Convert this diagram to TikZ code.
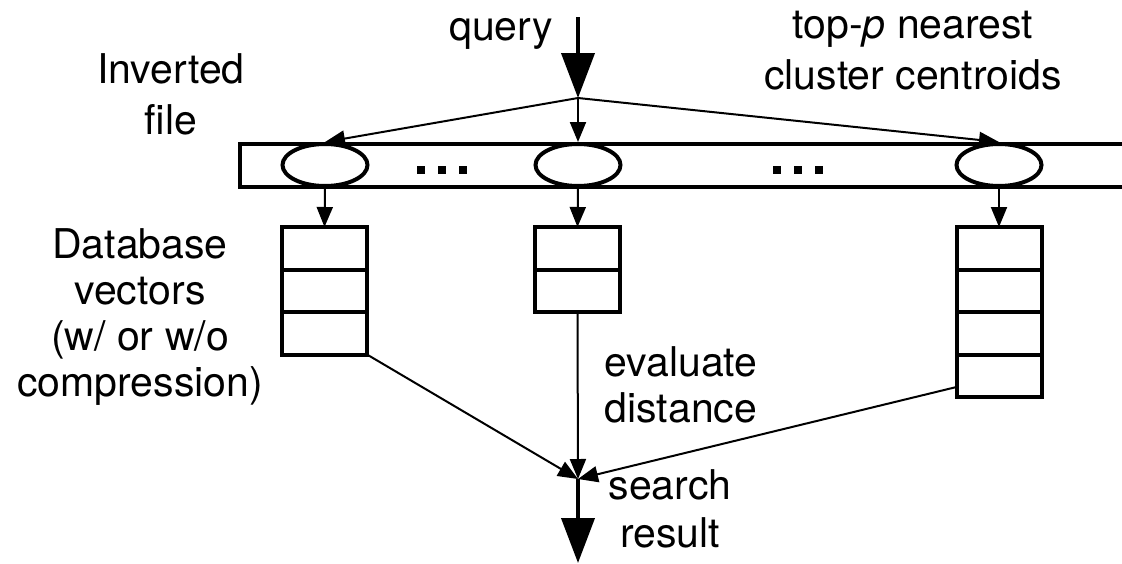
\documentclass[tikz,border=0pt]{standalone}
\usepackage{fontspec}
\setmainfont{TeX Gyre Heros}
\usetikzlibrary{arrows.meta,shapes.geometric}

\tikzset{
  txt/.style={inner sep=0pt, align=center, font=\fontsize{41}{#1}\selectfont},
  txt/.default=51,
  outline/.style={line width=4pt},
  cell/.style={draw, outline, rectangle, minimum width=85pt, minimum height=42.5pt, inner sep=0pt, outer sep=0pt},
  centroid/.style={draw, outline, ellipse, minimum width=85pt, minimum height=42pt, inner sep=0pt, fill=white},
  thin/.style={line width=2pt, -{Triangle[length=20pt,width=16pt]}},
  bigarrow/.style={line width=4pt, -{Triangle[length=45pt,width=33pt]}},
}

\begin{document}
\begin{tikzpicture}[x=1pt,y=-1pt]
\useasboundingbox (0,0) rectangle (1122,563);

% inverted file bar (runs off the right edge)
\draw[outline] (1126,144) -- (240,144) -- (240,187) -- (1126,187);

% cluster centroids
\node[centroid] (e1) at (325,165) {};
\node[centroid] (e2) at (578,165) {};
\node[centroid] (e3) at (999,165) {};

% ellipsis dots between the centroids
\foreach \x in {421,442,463} \fill (\x-4,166) rectangle (\x+4,174);
\foreach \x in {777,798,819} \fill (\x-4,166) rectangle (\x+4,174);

% lists of database vectors
\foreach \r in {1,2,3} \node[cell] (a\r) at (324.5,227+42.5*\r-21.25) {};
\foreach \r in {1,2} \node[cell] (b\r) at (577.5,227+42.5*\r-21.25) {};
\foreach \r in {1,2,3,4} \node[cell] (c\r) at (999,227+42.5*\r-21.25) {};

% query and its fan-out
\coordinate (qtop) at (578,17);
\coordinate (fan) at (578,98);
\draw[bigarrow] (qtop) -- (fan);
\draw[thin] (fan) -- (e1.north);
\draw[thin] (fan) -- (e2.north);
\draw[thin] (fan) -- (e3.north);

% centroids to their lists
\draw[thin] (e1.south) -- (a1.north);
\draw[thin] (e2.south) -- (b1.north);
\draw[thin] (e3.south) -- (c1.north);

% distance evaluation
\coordinate (merge) at (578,479);
\coordinate (out) at (578,563);
\draw[thin] (a3.south east) -- (merge);
\draw[thin] (b2.south) -- (merge);
\draw[thin] ([yshift=10pt]c4.south west) -- (merge);
\draw[bigarrow] (merge) -- (out);

% labels
\node[txt, anchor=base east] (query) at (553,40) {query};
\node[txt] (topp) at (913,50.5) {top-\textit{p} nearest\\cluster centroids};
\node[txt] (inv) at (171,94) {Inverted\\file};
\node[txt=46] (db) at (140,317.5) {Database\\vectors\\(w/ or w/o\\compression)};
\node[txt=46] (eval) at (681,385) {evaluate\\distance};
\node[txt=48] (res) at (670,509) {search\\result};
\end{tikzpicture}
\end{document}
